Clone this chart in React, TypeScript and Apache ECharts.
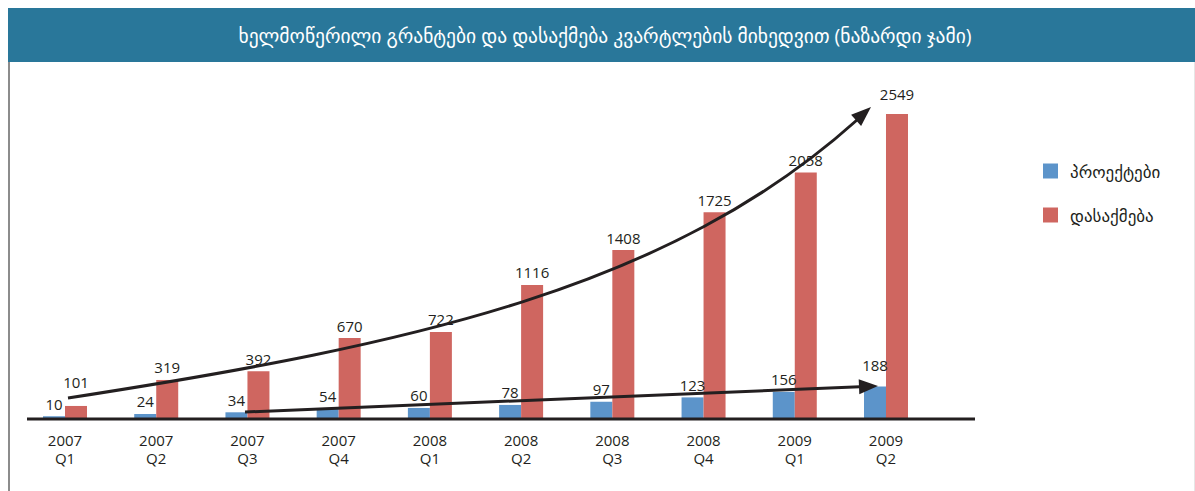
import React, { useEffect, useRef } from "react";
import * as echarts from "echarts";

const titleText = "ხელმოწერილი გრანტები და დასაქმება კვარტლების მიხედვით (ნაზარდი ჯამი)";
const categories = ["2007\nQ1", "2007\nQ2", "2007\nQ3", "2007\nQ4", "2008\nQ1", "2008\nQ2", "2008\nQ3", "2008\nQ4", "2009\nQ1", "2009\nQ2"];
const seriesNames = ["პროექტები", "დასაქმება"];
const projects = [10, 24, 34, 54, 60, 78, 97, 123, 156, 188];
const employment = [101, 319, 392, 670, 722, 1116, 1408, 1725, 2058, 2549];

const FONT = "'Open Sans', 'DejaVu Sans', sans-serif";
const TEXT = "#231f20";

export default function App() {
  const ref = useRef<HTMLDivElement>(null);
  useEffect(() => {
    if (!ref.current) return;
    const chart = echarts.init(ref.current, null, { renderer: "svg" });
    const last = employment.length - 1;
    const blueData = projects.map((v, i) => (i === last ? { value: v, label: { distance: 14 } } : v));
    const redData = employment.map((v, i) =>
      i === 0 ? { value: v, label: { distance: 16 } } : i === last ? { value: v, label: { distance: 13 } } : v
    );
    const labelStyle = { show: true, position: "top", distance: 5, color: TEXT, fontSize: 15, fontFamily: FONT };
    chart.setOption({
      animation: false,
      backgroundColor: "#ffffff",
      title: {
        text: titleText,
        left: 605,
        top: 25,
        textAlign: "center",
        padding: 0,
        textStyle: { color: "#ffffff", fontSize: 19.5, fontWeight: "normal", fontFamily: FONT, lineHeight: 20 },
      },
      legend: {
        orient: "vertical",
        left: 1038,
        top: 156,
        itemWidth: 15,
        itemHeight: 15,
        itemGap: 24,
        icon: "rect",
        textStyle: { color: TEXT, fontSize: 17, fontFamily: FONT, lineHeight: 20, padding: [0, 0, 0, 7] },
        data: seriesNames,
      },
      grid: { left: 19.4, right: 263.4, top: 108, bottom: 73, containLabel: false },
      xAxis: {
        type: "category",
        data: categories,
        axisLine: { show: false },
        axisTick: { show: false },
        axisLabel: { color: TEXT, fontSize: 15, fontFamily: FONT, lineHeight: 18, margin: 13 },
      },
      yAxis: [
        { type: "value", min: 0, max: 2600, show: false, splitLine: { show: false } },
        { type: "value", min: 0, max: 1850, show: false, splitLine: { show: false } },
      ],
      series: [
        {
          name: seriesNames[0],
          type: "bar",
          yAxisIndex: 1,
          barWidth: 22,
          barGap: "0%",
          itemStyle: { color: "#5c94ca" },
          label: labelStyle,
          data: blueData,
        },
        {
          name: seriesNames[1],
          type: "bar",
          yAxisIndex: 0,
          barWidth: 22,
          barGap: "0%",
          itemStyle: { color: "#cf6660" },
          label: labelStyle,
          data: redData,
        },
      ],
      graphic: [
        { type: "rect", shape: { x: 8, y: 8, width: 1187, height: 54 }, style: { fill: "#29779a" }, z: -1 },
        { type: "rect", shape: { x: 8, y: 62, width: 2, height: 429 }, style: { fill: "#8c8c8c" } },
        { type: "rect", shape: { x: 1194, y: 62, width: 1, height: 429 }, style: { fill: "#e6e6e6" } },
        { type: "line", shape: { x1: 27, y1: 419, x2: 975, y2: 419 }, style: { stroke: TEXT, lineWidth: 3 }, z: 10 },
        {
          type: "bezierCurve",
          shape: { x1: 68, y1: 398, cpx1: 418, cpy1: 344, cpx2: 671, cpy2: 287, x2: 857, y2: 120 },
          style: { stroke: TEXT, lineWidth: 3, fill: null },
          z: 10,
        },
        {
          type: "polygon",
          shape: { points: [[871, 107], [861.1, 126], [851.1, 114.8]] },
          style: { fill: TEXT },
          z: 10,
        },
        { type: "line", shape: { x1: 245, y1: 412, x2: 860, y2: 386.7 }, style: { stroke: TEXT, lineWidth: 3 }, z: 10 },
        {
          type: "polygon",
          shape: { points: [[878, 386], [859.3, 394.2], [858.7, 379.2]] },
          style: { fill: TEXT },
          z: 10,
        },
      ],
    });
    return () => chart.dispose();
  }, []);
  return <div ref={ref} style={{ position: "fixed", left: 0, top: 0, width: 1195, height: 491 }} />;
}
